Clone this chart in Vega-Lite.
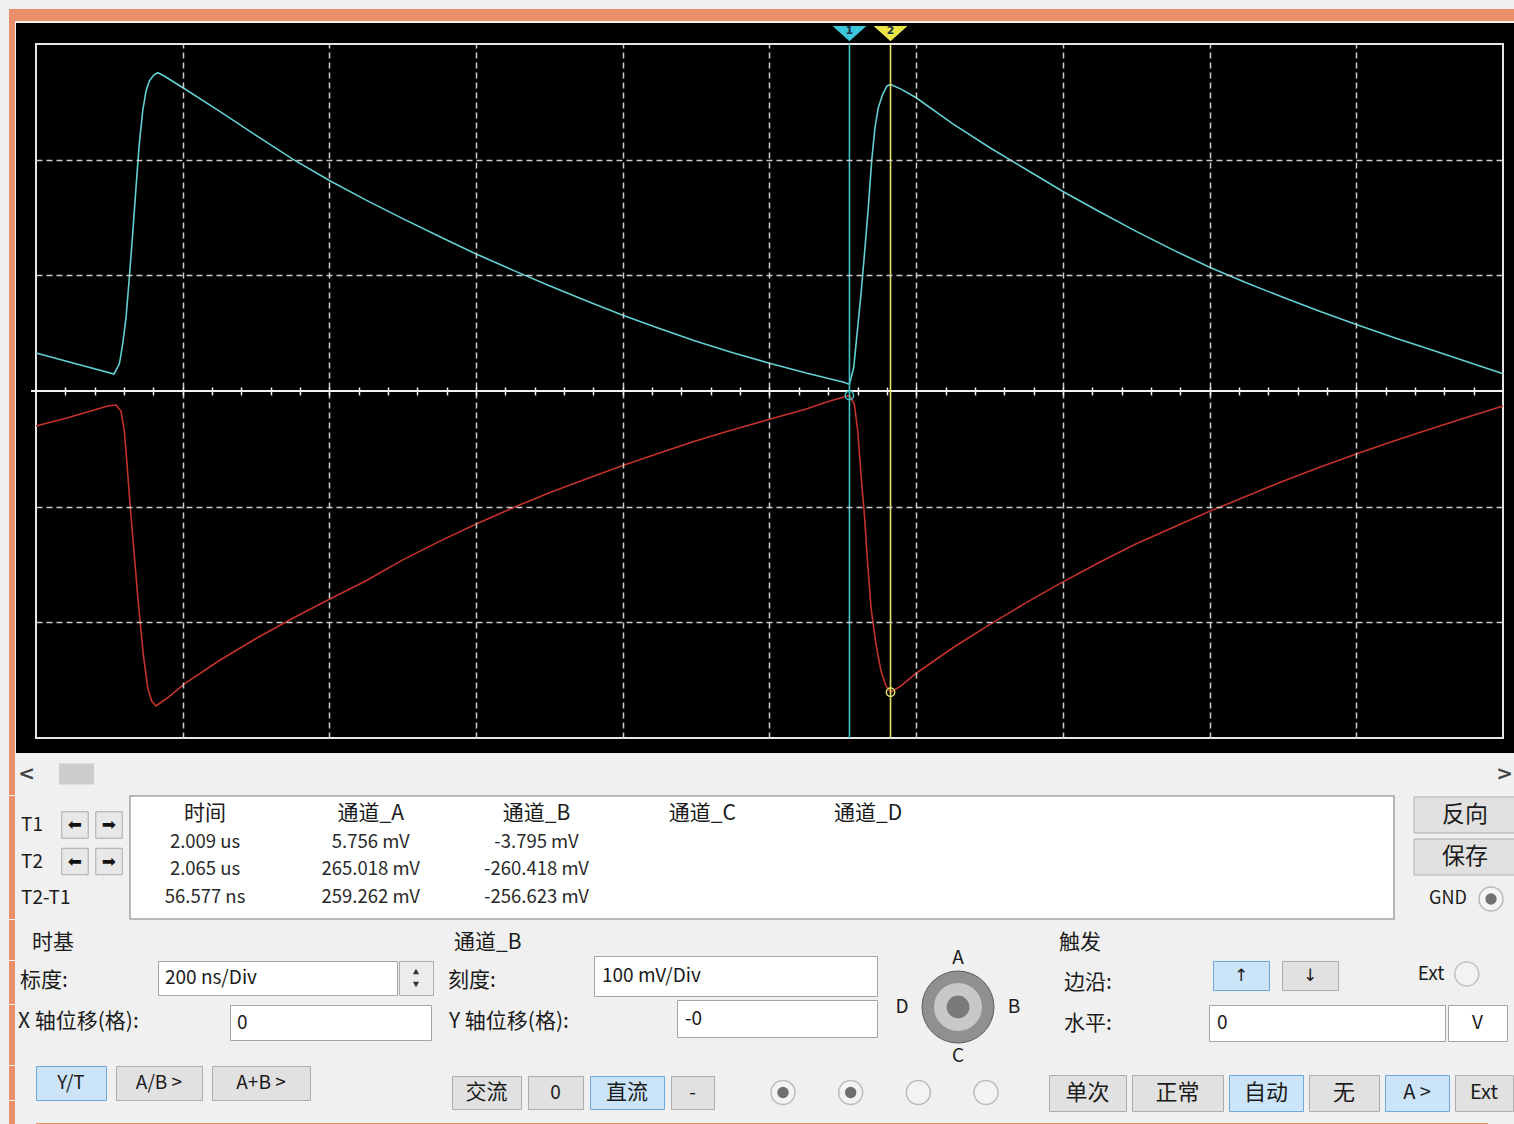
{
  "$schema": "https://vega.github.io/schema/vega-lite/v6.json",
  "background": "#f0f0f0",
  "padding": {"left": 8, "top": 8, "right": 0, "bottom": 0},
  "config": {"font": "Noto Sans CJK SC", "view": {"stroke": null}, "text": {"color": "#1b1b1b"}},
  "datasets": {
    "traces": [
      {"ch":"A","t":0.9,"v":32.9},{"ch":"A","t":1.0063,"v":14.7},{"ch":"A","t":1.0136,"v":23.3},{"ch":"A","t":1.0182,"v":40.6},{"ch":"A","t":1.0227,"v":63.1},{"ch":"A","t":1.0272,"v":97.7},{"ch":"A","t":1.0318,"v":135.7},{"ch":"A","t":1.0363,"v":175.5},{"ch":"A","t":1.0408,"v":213.5},{"ch":"A","t":1.0455,"v":242.1},{"ch":"A","t":1.05,"v":259.4},{"ch":"A","t":1.0545,"v":268.0},{"ch":"A","t":1.0605,"v":273.2},{"ch":"A","t":1.0659,"v":275.2},{"ch":"A","t":1.0749,"v":272.3},{"ch":"A","t":1.1014,"v":261.7},{"ch":"A","t":1.15,"v":242.0},{"ch":"A","t":1.2,"v":221.0},{"ch":"A","t":1.25,"v":200.5},{"ch":"A","t":1.3,"v":182.0},{"ch":"A","t":1.35,"v":165.0},{"ch":"A","t":1.4,"v":149.0},{"ch":"A","t":1.45,"v":133.5},{"ch":"A","t":1.5,"v":118.5},{"ch":"A","t":1.55,"v":104.5},{"ch":"A","t":1.6,"v":91.0},{"ch":"A","t":1.65,"v":78.0},{"ch":"A","t":1.7,"v":65.5},{"ch":"A","t":1.75,"v":54.0},{"ch":"A","t":1.8,"v":43.0},{"ch":"A","t":1.85,"v":33.0},{"ch":"A","t":1.9,"v":24.0},{"ch":"A","t":1.95,"v":15.5},{"ch":"A","t":2.0,"v":7.8},{"ch":"A","t":2.009,"v":5.8},{"ch":"A","t":2.0148,"v":20.1},{"ch":"A","t":2.0193,"v":49.0},{"ch":"A","t":2.0247,"v":83.6},{"ch":"A","t":2.0302,"v":123.9},{"ch":"A","t":2.0347,"v":158.5},{"ch":"A","t":2.0393,"v":198.9},{"ch":"A","t":2.0438,"v":227.6},{"ch":"A","t":2.0483,"v":244.9},{"ch":"A","t":2.0543,"v":256.5},{"ch":"A","t":2.0602,"v":263.7},{"ch":"A","t":2.065,"v":265.0},{"ch":"A","t":2.0793,"v":261.0},{"ch":"A","t":2.1,"v":253.5},{"ch":"A","t":2.15,"v":231.0},{"ch":"A","t":2.2,"v":210.5},{"ch":"A","t":2.25,"v":191.5},{"ch":"A","t":2.3,"v":172.5},{"ch":"A","t":2.35,"v":155.0},{"ch":"A","t":2.4,"v":138.0},{"ch":"A","t":2.45,"v":122.0},{"ch":"A","t":2.5,"v":107.0},{"ch":"A","t":2.55,"v":93.5},{"ch":"A","t":2.6,"v":81.0},{"ch":"A","t":2.65,"v":69.0},{"ch":"A","t":2.7,"v":57.5},{"ch":"A","t":2.75,"v":46.5},{"ch":"A","t":2.8,"v":36.0},{"ch":"A","t":2.85,"v":25.5},{"ch":"A","t":2.9,"v":15.0},
      {"ch":"B","t":0.9,"v":-30.3},{"ch":"B","t":0.9432,"v":-23.1},{"ch":"B","t":0.9977,"v":-13.0},{"ch":"B","t":1.0091,"v":-12.1},{"ch":"B","t":1.0159,"v":-17.3},{"ch":"B","t":1.0204,"v":-34.6},{"ch":"B","t":1.0241,"v":-63.4},{"ch":"B","t":1.0286,"v":-100.9},{"ch":"B","t":1.0332,"v":-135.5},{"ch":"B","t":1.0377,"v":-170.1},{"ch":"B","t":1.0422,"v":-201.7},{"ch":"B","t":1.0468,"v":-230.6},{"ch":"B","t":1.0523,"v":-256.5},{"ch":"B","t":1.0577,"v":-268.0},{"ch":"B","t":1.0636,"v":-272.3},{"ch":"B","t":1.0795,"v":-265.2},{"ch":"B","t":1.1014,"v":-253.6},{"ch":"B","t":1.15,"v":-233.0},{"ch":"B","t":1.2,"v":-214.0},{"ch":"B","t":1.25,"v":-196.5},{"ch":"B","t":1.3,"v":-180.0},{"ch":"B","t":1.35,"v":-164.0},{"ch":"B","t":1.4,"v":-146.0},{"ch":"B","t":1.45,"v":-130.0},{"ch":"B","t":1.5,"v":-115.0},{"ch":"B","t":1.55,"v":-101.0},{"ch":"B","t":1.6,"v":-88.0},{"ch":"B","t":1.65,"v":-76.0},{"ch":"B","t":1.7,"v":-64.5},{"ch":"B","t":1.75,"v":-53.5},{"ch":"B","t":1.8,"v":-43.0},{"ch":"B","t":1.85,"v":-33.5},{"ch":"B","t":1.9,"v":-24.5},{"ch":"B","t":1.95,"v":-15.5},{"ch":"B","t":1.98,"v":-9.0},{"ch":"B","t":2.009,"v":-3.8},{"ch":"B","t":2.0157,"v":-11.5},{"ch":"B","t":2.0203,"v":-34.6},{"ch":"B","t":2.0247,"v":-72.0},{"ch":"B","t":2.0293,"v":-106.6},{"ch":"B","t":2.0339,"v":-149.8},{"ch":"B","t":2.0384,"v":-187.4},{"ch":"B","t":2.0452,"v":-219.0},{"ch":"B","t":2.052,"v":-242.1},{"ch":"B","t":2.0588,"v":-255.0},{"ch":"B","t":2.065,"v":-260.4},{"ch":"B","t":2.0793,"v":-255.0},{"ch":"B","t":2.1,"v":-244.0},{"ch":"B","t":2.15,"v":-222.0},{"ch":"B","t":2.2,"v":-202.0},{"ch":"B","t":2.25,"v":-183.0},{"ch":"B","t":2.3,"v":-165.0},{"ch":"B","t":2.35,"v":-148.0},{"ch":"B","t":2.4,"v":-132.0},{"ch":"B","t":2.45,"v":-118.0},{"ch":"B","t":2.5,"v":-104.0},{"ch":"B","t":2.55,"v":-91.0},{"ch":"B","t":2.6,"v":-78.0},{"ch":"B","t":2.65,"v":-66.0},{"ch":"B","t":2.7,"v":-54.5},{"ch":"B","t":2.75,"v":-43.5},{"ch":"B","t":2.8,"v":-33.0},{"ch":"B","t":2.85,"v":-23.0},{"ch":"B","t":2.9,"v":-13.0}
    ],
    "cursors": [
      {"cursor":"T1","num":"1","t":2.009,"vB":-3.795},
      {"cursor":"T2","num":"2","t":2.065,"vB":-260.418}
    ]
  },
  "spacing": 0,
  "resolve": {"scale": {"fill": "independent", "stroke": "independent", "color": "independent", "shape": "independent"}},
  "vconcat": [
    {
      "width": 1467,
      "height": 694,
      "resolve": {"axis": {"x": "independent", "y": "independent"}},
      "layer": [
        {"data": {"values": [{}]}, "mark": {"type": "rect", "fill": "#e98f6a"},
         "encoding": {"x": {"datum": 0.86319, "type": "quantitative", "axis": null, "scale": {"domain": [0.9, 2.9], "nice": false, "zero": false}}, "x2": {"datum": 2.91636}, "y": {"datum": 330.26, "type": "quantitative", "axis": null, "scale": {"domain": [-300, 300], "nice": false, "zero": false}}, "y2": {"datum": 319.88}}},
        {"data": {"values": [{}]}, "mark": {"type": "rect", "fill": "#e98f6a"},
         "encoding": {"x": {"datum": 0.86319, "type": "quantitative", "axis": null}, "x2": {"datum": 0.87137}, "y": {"datum": 330.26, "type": "quantitative", "axis": null}, "y2": {"datum": -312.968}}},
        {"data": {"values": [{}]}, "mark": {"type": "rect", "fill": "#000000"},
         "encoding": {
           "x": {"datum": 0.872733, "type": "quantitative", "scale": {"domain": [0.9, 2.9], "nice": false, "zero": false},
                 "axis": {"orient": "top", "values": [1.1, 1.3, 1.5, 1.7, 1.9, 2.1, 2.3, 2.5, 2.7], "grid": true, "gridDash": [6, 4], "gridColor": "#cdcdcd", "gridWidth": 1.5, "domain": false, "ticks": false, "labels": false, "title": null, "zindex": 1}},
           "x2": {"datum": 2.91636},
           "y": {"datum": 318.156, "type": "quantitative", "scale": {"domain": [-300, 300], "nice": false, "zero": false},
                 "axis": {"orient": "left", "values": [-200, -100, 100, 200], "grid": true, "gridDash": [6, 4], "gridColor": "#cdcdcd", "gridWidth": 1.5, "domain": false, "ticks": false, "labels": false, "title": null, "zindex": 1}},
           "y2": {"datum": -312.968}
         }},
        {"data": {"values": [{}]}, "mark": {"type": "rect", "fillOpacity": 0, "stroke": "#e6e6e6", "strokeWidth": 2},
         "encoding": {"x": {"datum": 0.9, "type": "quantitative", "axis": null}, "x2": {"datum": 2.9}, "y": {"datum": 300, "type": "quantitative", "axis": null}, "y2": {"datum": -300}}},
        {"data": {"values": [{}]}, "mark": {"type": "rule", "color": "#f2f2f2", "strokeWidth": 2},
         "encoding": {"x": {"datum": 0.8932, "type": "quantitative", "axis": null}, "x2": {"datum": 2.9009}, "y": {"datum": 0, "type": "quantitative", "axis": null}}},
        {"data": {"name": "traces"}, "mark": {"type": "line", "strokeWidth": 1.6},
         "encoding": {
           "x": {"field": "t", "type": "quantitative", "scale": {"domain": [0.9, 2.9], "nice": false, "zero": false},
                 "axis": {"orient": "bottom", "offset": -351, "values": [0.94,0.98,1.02,1.06,1.1,1.14,1.18,1.22,1.26,1.3,1.34,1.38,1.42,1.46,1.5,1.54,1.58,1.62,1.66,1.7,1.74,1.78,1.82,1.86,1.9,1.94,1.98,2.02,2.06,2.1,2.14,2.18,2.22,2.26,2.3,2.34,2.38,2.42,2.46,2.5,2.54,2.58,2.62,2.66,2.7,2.74,2.78,2.82,2.86], "grid": false, "domain": false, "labels": false, "ticks": true, "tickSize": 8, "tickColor": "#f2f2f2", "tickWidth": 1.5, "title": null, "zindex": 1}},
           "y": {"field": "v", "type": "quantitative", "axis": null},
           "color": {"field": "ch", "type": "nominal", "scale": {"domain": ["A", "B"], "range": ["#62cfd1", "#c4322b"]}, "legend": null}
         }},
        {"data": {"name": "cursors"}, "transform": [{"filter": "datum.cursor == 'T1'"}], "mark": {"type": "rule", "color": "#43c2c6", "strokeWidth": 1.6},
         "encoding": {"x": {"field": "t", "type": "quantitative", "axis": null}}},
        {"data": {"name": "cursors"}, "transform": [{"filter": "datum.cursor == 'T2'"}], "mark": {"type": "rule", "color": "#e4e46a", "strokeWidth": 1.6},
         "encoding": {"x": {"field": "t", "type": "quantitative", "axis": null}}},
        {"data": {"name": "cursors"}, "mark": {"type": "point", "shape": "M-1,-0.45L1,-0.45L0,0.45Z", "size": 1150, "filled": true, "opacity": 1},
         "encoding": {"x": {"field": "t", "type": "quantitative", "axis": null}, "y": {"datum": 309, "type": "quantitative", "axis": null},
                      "fill": {"field": "cursor", "type": "nominal", "scale": {"domain": ["T1", "T2"], "range": ["#3cc6dc", "#ece548"]}, "legend": null}}},
        {"data": {"name": "cursors"}, "mark": {"type": "text", "fontSize": 11, "fontWeight": "bold", "color": "#17324a", "font": "DejaVu Sans"},
         "encoding": {"x": {"field": "t", "type": "quantitative", "axis": null}, "y": {"datum": 311, "type": "quantitative", "axis": null}, "text": {"field": "num"}}},
        {"data": {"name": "cursors"}, "mark": {"type": "point", "shape": "circle", "size": 70, "filled": false, "strokeWidth": 1.5, "opacity": 1},
         "encoding": {"x": {"field": "t", "type": "quantitative", "axis": null}, "y": {"field": "vB", "type": "quantitative", "axis": null},
                      "stroke": {"field": "cursor", "type": "nominal", "scale": {"domain": ["T1", "T2"], "range": ["#43c2c6", "#e4e46a"]}, "legend": null}}}
      ]
    },
    {
      "width": 1477,
      "height": 42,
      "resolve": {"scale": {"x": "independent"}},
      "layer": [
        {"data": {"values": [{}]}, "mark": {"type": "point", "shape": "M-0.142857,-1L0.142857,-1L0.142857,1L-0.142857,1Z", "size": 1764, "filled": true, "fill": "#e98f6a", "strokeWidth": 0, "opacity": 1, "xOffset": -24},
         "encoding": {"x": {"datum": "s", "type": "nominal", "axis": null, "scale": {"type": "point", "domain": ["s"], "align": 0}}}},
        {"data": {"values": [{"a": "<"}, {"a": ">"}]}, "transform": [{"filter": "datum.a == '<'"}], "mark": {"type": "text", "align": "right", "dx": -1, "fontSize": 20, "fontWeight": "bold", "color": "#444444", "font": "DejaVu Sans"},
         "encoding": {"x": {"field": "a", "type": "nominal", "axis": null, "scale": {"type": "point", "domain": ["<", ">"], "padding": 0}}, "text": {"field": "a"}}},
        {"data": {"values": [{"a": "<"}, {"a": ">"}]}, "transform": [{"filter": "datum.a == '>'"}], "mark": {"type": "text", "align": "right", "fontSize": 20, "fontWeight": "bold", "color": "#444444", "font": "DejaVu Sans"},
         "encoding": {"x": {"field": "a", "type": "nominal", "axis": null, "scale": {"type": "point", "domain": ["<", ">"], "padding": 0}}, "text": {"field": "a"}}},
        {"data": {"values": [{"part": "thumb"}]}, "mark": {"type": "point", "shape": "M-1,-0.6L1,-0.6L1,0.6L-1,0.6Z", "size": 1225, "filled": true, "fill": "#cdcdcd", "opacity": 1},
         "encoding": {"x": {"field": "part", "type": "nominal", "axis": null, "scale": {"type": "point", "domain": ["thumb"], "align": 0.0274}}}}
      ]
    },
    {
      "spacing": 18,
      "hconcat": [
        {
          "spacing": 0,
          "hconcat": [
            {
              "width": 93,
              "height": 123,
              "resolve": {"scale": {"x": "independent"}},
              "layer": [
                {"data": {"values": [{}]}, "mark": {"type": "point", "shape": "M-0.04878,-1L0.04878,-1L0.04878,1L-0.04878,1Z", "size": 15129, "filled": true, "fill": "#e98f6a", "strokeWidth": 0, "opacity": 1, "xOffset": -24},
                 "encoding": {"x": {"datum": "s", "type": "nominal", "axis": null, "scale": {"type": "point", "domain": ["s"], "align": 0}}}},
                {"data": {"values": [{"row": "T1", "name": "T1"}, {"row": "T2", "name": "T2"}, {"row": "T2-T1", "name": "T2-T1"}]},
                 "mark": {"type": "text", "align": "left", "dx": -15, "fontSize": 19},
                 "encoding": {"x": {"datum": "n", "type": "nominal", "axis": null, "scale": {"type": "point", "domain": ["n"], "align": 0}},
                              "y": {"field": "row", "type": "nominal", "axis": null, "scale": {"type": "point", "domain": ["T1", "T2", "T2-T1"], "padding": 0.685, "align": 0.58}},
                              "text": {"field": "name"}}},
                {"data": {"values": [{"row": "T1", "dir": "L", "glyph": "⬅"}, {"row": "T1", "dir": "R", "glyph": "➡"}, {"row": "T2", "dir": "L", "glyph": "⬅"}, {"row": "T2", "dir": "R", "glyph": "➡"}]},
                 "encoding": {"x": {"field": "dir", "type": "nominal", "axis": null, "scale": {"type": "point", "domain": ["L", "R"], "padding": 0.8676, "align": 0.661}},
                              "y": {"field": "row", "type": "nominal", "axis": null, "scale": {"type": "point", "domain": ["T1", "T2", "T2-T1"], "padding": 0.685, "align": 0.58}}},
                 "layer": [
                   {"mark": {"type": "point", "shape": "square", "size": 700, "filled": true, "fill": "#e8e8e8", "stroke": "#a9a9a9", "strokeWidth": 1, "opacity": 1}},
                   {"mark": {"type": "text", "fontSize": 17, "font": "DejaVu Sans", "color": "#111111"}, "encoding": {"text": {"field": "glyph"}}}
                 ]}
              ]
            },
            {
              "width": 1264,
              "height": 123,
              "view": {"fill": "#ffffff", "stroke": "#a3a3a3", "strokeWidth": 1.5},
              "data": {"values": [
                {"row": "header", "col": "时间", "value": "时间"},
                {"row": "header", "col": "通道_A", "value": "通道_A"},
                {"row": "header", "col": "通道_B", "value": "通道_B"},
                {"row": "header", "col": "通道_C", "value": "通道_C"},
                {"row": "header", "col": "通道_D", "value": "通道_D"},
                {"row": "T1", "col": "时间", "value": "2.009 us"},
                {"row": "T1", "col": "通道_A", "value": "5.756 mV"},
                {"row": "T1", "col": "通道_B", "value": "-3.795 mV"},
                {"row": "T2", "col": "时间", "value": "2.065 us"},
                {"row": "T2", "col": "通道_A", "value": "265.018 mV"},
                {"row": "T2", "col": "通道_B", "value": "-260.418 mV"},
                {"row": "T2-T1", "col": "时间", "value": "56.577 ns"},
                {"row": "T2-T1", "col": "通道_A", "value": "259.262 mV"},
                {"row": "T2-T1", "col": "通道_B", "value": "-256.623 mV"}
              ]},
              "encoding": {
                "x": {"field": "col", "type": "nominal", "axis": null, "scale": {"type": "point", "domain": ["时间", "通道_A", "通道_B", "通道_C", "通道_D", "_e1", "_e2", "_e3"], "padding": 0.313, "align": 0.723}},
                "y": {"field": "row", "type": "nominal", "axis": null, "scale": {"type": "point", "domain": ["header", "T1", "T2", "T2-T1"], "padding": 0.7227, "align": 0.45}},
                "text": {"field": "value"}
              },
              "layer": [
                {"transform": [{"filter": "datum.row == 'header'"}], "mark": {"type": "text", "fontSize": 21}},
                {"transform": [{"filter": "datum.row != 'header'"}], "mark": {"type": "text", "fontSize": 18.5, "color": "#2a2a2a"}}
              ]
            }
          ]
        },
        {
          "width": 102,
          "height": 123,
          "data": {"values": [{"item": "反向", "kind": "button"}, {"item": "保存", "kind": "button"}, {"item": "GND", "kind": "radio"}]},
          "encoding": {"y": {"field": "item", "type": "nominal", "axis": null, "scale": {"type": "band", "domain": ["反向", "保存", "GND"], "paddingInner": 0.1429, "paddingOuter": 0.0357, "align": 0.333}}},
          "layer": [
            {"transform": [{"filter": "datum.kind == 'button'"}], "mark": {"type": "rect", "fill": "#e1e1e1", "stroke": "#adadad"}},
            {"transform": [{"filter": "datum.kind == 'button'"}], "mark": {"type": "text", "fontSize": 23}, "encoding": {"text": {"field": "item"}}},
            {"transform": [{"filter": "datum.kind == 'radio'"}], "mark": {"type": "text", "fontSize": 18, "dx": -17}, "encoding": {"text": {"field": "item"}}},
            {"transform": [{"filter": "datum.kind == 'radio'"}], "mark": {"type": "point", "shape": "circle", "size": 576, "filled": true, "fill": "#f4f4f4", "stroke": "#b9b9b9", "strokeWidth": 1.5, "opacity": 1, "xOffset": 26}},
            {"transform": [{"filter": "datum.kind == 'radio'"}], "mark": {"type": "point", "shape": "circle", "size": 130, "filled": true, "fill": "#727272", "opacity": 1, "xOffset": 26}}
          ]
        }
      ]
    },
    {
      "spacing": 0,
      "hconcat": [
        {
          "spacing": 0,
          "vconcat": [
            {"width": 404, "height": 40, "resolve": {"scale": {"x": "independent"}},
             "layer": [
               {"data": {"values": [{}]}, "mark": {"type": "point", "shape": "M-0.15,-1L0.15,-1L0.15,1L-0.15,1Z", "size": 1600, "filled": true, "fill": "#e98f6a", "strokeWidth": 0, "opacity": 1, "xOffset": -24},
                "encoding": {"x": {"datum": "s", "type": "nominal", "axis": null, "scale": {"type": "point", "domain": ["s"], "align": 0}}}},
               {"data": {"values": [{"t": "时基"}]}, "mark": {"type": "text", "align": "left", "dx": -4, "fontSize": 21},
                "encoding": {"text": {"field": "t"}, "x": {"datum": "p", "type": "nominal", "axis": null, "scale": {"type": "point", "domain": ["p"], "align": 0}}, "y": {"datum": "p", "type": "nominal", "axis": null, "scale": {"type": "point", "domain": ["p"], "align": 0.575}}}}
             ]},
            {"spacing": 0, "hconcat": [
              {"width": 121, "height": 43, "resolve": {"scale": {"x": "independent"}},
               "layer": [
                 {"data": {"values": [{}]}, "mark": {"type": "point", "shape": "M-0.13953,-1L0.13953,-1L0.13953,1L-0.13953,1Z", "size": 1849, "filled": true, "fill": "#e98f6a", "strokeWidth": 0, "opacity": 1, "xOffset": -24},
                  "encoding": {"x": {"datum": "s", "type": "nominal", "axis": null, "scale": {"type": "point", "domain": ["s"], "align": 0}}}},
                 {"data": {"values": [{"t": "标度:"}]}, "mark": {"type": "text", "align": "left", "dx": -16, "fontSize": 21},
                  "encoding": {"text": {"field": "t"}, "x": {"datum": "p", "type": "nominal", "axis": null, "scale": {"type": "point", "domain": ["p"], "align": 0}}, "y": {"datum": "p", "type": "nominal", "axis": null, "scale": {"type": "point", "domain": ["p"], "align": 0.465}}}}
               ]},
              {"width": 239, "height": 34, "view": {"fill": "#ffffff", "stroke": "#a5a5a5"}, "data": {"values": [{"t": "200 ns/Div"}]}, "mark": {"type": "text", "align": "left", "dx": 7, "fontSize": 19},
               "encoding": {"text": {"field": "t"}, "x": {"datum": "p", "type": "nominal", "axis": null, "scale": {"type": "point", "domain": ["p"], "align": 0}}}},
              {"width": 34, "height": 34, "view": {"fill": "#ececec", "stroke": "#adadad"}, "data": {"values": [{"d": "up"}, {"d": "down"}]},
               "mark": {"type": "point", "filled": true, "size": 40, "color": "#333333", "opacity": 1},
               "encoding": {"shape": {"field": "d", "type": "nominal", "scale": {"domain": ["up", "down"], "range": ["triangle-up", "triangle-down"]}, "legend": null},
                            "y": {"field": "d", "type": "nominal", "axis": null, "scale": {"type": "point", "domain": ["up", "down"], "padding": 0.8}}}}
            ]},
            {"spacing": 0, "hconcat": [
              {"width": 193, "height": 60, "resolve": {"scale": {"x": "independent"}},
               "layer": [
                 {"data": {"values": [{}]}, "mark": {"type": "point", "shape": "M-0.1,-1L0.1,-1L0.1,1L-0.1,1Z", "size": 3600, "filled": true, "fill": "#e98f6a", "strokeWidth": 0, "opacity": 1, "xOffset": -24},
                  "encoding": {"x": {"datum": "s", "type": "nominal", "axis": null, "scale": {"type": "point", "domain": ["s"], "align": 0}}}},
                 {"data": {"values": [{"t": "X 轴位移(格):"}]}, "mark": {"type": "text", "align": "left", "dx": -18, "fontSize": 21},
                  "encoding": {"text": {"field": "t"}, "x": {"datum": "p", "type": "nominal", "axis": null, "scale": {"type": "point", "domain": ["p"], "align": 0}}, "y": {"datum": "p", "type": "nominal", "axis": null, "scale": {"type": "point", "domain": ["p"], "align": 0.283}}}}
               ]},
              {"width": 201, "height": 35, "view": {"fill": "#ffffff", "stroke": "#a5a5a5"}, "data": {"values": [{"t": "0"}]}, "mark": {"type": "text", "align": "left", "dx": 7, "fontSize": 19},
               "encoding": {"text": {"field": "t"}, "x": {"datum": "p", "type": "nominal", "axis": null, "scale": {"type": "point", "domain": ["p"], "align": 0}}}}
            ]},
            {"spacing": 8, "hconcat": [
              {"width": 70, "height": 34, "view": {"fill": "#cce4f7", "stroke": "#6fa8dc"},
               "layer": [
                 {"data": {"values": [{}]}, "mark": {"type": "point", "shape": "M-0.17647,-1L0.17647,-1L0.17647,1L-0.17647,1Z", "size": 1156, "filled": true, "fill": "#e98f6a", "strokeWidth": 0, "opacity": 1, "xOffset": -24},
                  "encoding": {"x": {"datum": "s", "type": "nominal", "axis": null, "scale": {"type": "point", "domain": ["s"], "align": 0}}}},
                 {"data": {"values": [{"t": "Y/T"}]}, "mark": {"type": "text", "fontSize": 19}, "encoding": {"text": {"field": "t"}}}
               ]},
              {"width": 86, "height": 34, "view": {"fill": "#e1e1e1", "stroke": "#adadad"}, "data": {"values": [{"t": "A/B >"}]}, "mark": {"type": "text", "fontSize": 19}, "encoding": {"text": {"field": "t"}}},
              {"width": 98, "height": 34, "view": {"fill": "#e1e1e1", "stroke": "#adadad"}, "data": {"values": [{"t": "A+B >"}]}, "mark": {"type": "text", "fontSize": 19}, "encoding": {"text": {"field": "t"}}}
            ]},
            {"width": 10, "height": 12, "data": {"values": [{}]}, "mark": {"type": "point", "shape": "M-0.5,-1L0.5,-1L0.5,1L-0.5,1Z", "size": 144, "filled": true, "fill": "#e98f6a", "strokeWidth": 0, "opacity": 1, "xOffset": -24},
             "encoding": {"x": {"datum": "s", "type": "nominal", "axis": null, "scale": {"type": "point", "domain": ["s"], "align": 0}}}}
          ]
        },
        {
          "spacing": 0,
          "vconcat": [
            {"spacing": 0, "hconcat": [
              {"spacing": 0, "vconcat": [
                {"width": 446, "height": 35, "data": {"values": [{"t": "通道_B"}]}, "mark": {"type": "text", "align": "left", "fontSize": 21},
                 "encoding": {"text": {"field": "t"}, "x": {"datum": "p", "type": "nominal", "axis": null, "scale": {"type": "point", "domain": ["p"], "align": 0.0314}}, "y": {"datum": "p", "type": "nominal", "axis": null, "scale": {"type": "point", "domain": ["p"], "align": 0.657}}}},
                {"spacing": 0, "hconcat": [
                  {"width": 153, "height": 43, "data": {"values": [{"t": "刻度:"}]}, "mark": {"type": "text", "align": "left", "fontSize": 21},
                   "encoding": {"text": {"field": "t"}, "x": {"datum": "p", "type": "nominal", "axis": null, "scale": {"type": "point", "domain": ["p"], "align": 0.0523}}, "y": {"datum": "p", "type": "nominal", "axis": null, "scale": {"type": "point", "domain": ["p"], "align": 0.58}}}},
                  {"width": 283, "height": 40, "view": {"fill": "#ffffff", "stroke": "#a5a5a5"}, "data": {"values": [{"t": "100 mV/Div"}]}, "mark": {"type": "text", "align": "left", "dx": 8, "fontSize": 19},
                   "encoding": {"text": {"field": "t"}, "x": {"datum": "p", "type": "nominal", "axis": null, "scale": {"type": "point", "domain": ["p"], "align": 0}}}}
                ]},
                {"spacing": 0, "hconcat": [
                  {"width": 236, "height": 37, "data": {"values": [{"t": "Y 轴位移(格):"}]}, "mark": {"type": "text", "align": "left", "fontSize": 21},
                   "encoding": {"text": {"field": "t"}, "x": {"datum": "p", "type": "nominal", "axis": null, "scale": {"type": "point", "domain": ["p"], "align": 0.0381}}, "y": {"datum": "p", "type": "nominal", "axis": null, "scale": {"type": "point", "domain": ["p"], "align": 0.595}}}},
                  {"width": 200, "height": 37, "view": {"fill": "#ffffff", "stroke": "#a5a5a5"}, "data": {"values": [{"t": "-0"}]}, "mark": {"type": "text", "align": "left", "dx": 8, "fontSize": 19},
                   "encoding": {"text": {"field": "t"}, "x": {"datum": "p", "type": "nominal", "axis": null, "scale": {"type": "point", "domain": ["p"], "align": 0}}}}
                ]}
              ]},
              {"width": 162, "height": 155,
               "data": {"values": [{"h": "mid", "v": "A", "label": "A"}, {"h": "D", "v": "mid", "label": "D"}, {"h": "B", "v": "mid", "label": "B"}, {"h": "mid", "v": "C", "label": "C"}, {"h": "mid", "v": "mid", "label": ""}]},
               "encoding": {"x": {"field": "h", "type": "nominal", "axis": null, "scale": {"type": "point", "domain": ["D", "mid", "B"], "padding": 0.4464, "align": 0.32}},
                            "y": {"field": "v", "type": "nominal", "axis": null, "scale": {"type": "point", "domain": ["A", "mid", "C"], "padding": 0.5816, "align": 0.667}}},
               "layer": [
                 {"transform": [{"filter": "datum.label == ''"}], "mark": {"type": "point", "shape": "circle", "size": 5184, "filled": true, "fill": "#909090", "stroke": "#5e5e5e", "strokeWidth": 1, "opacity": 1}},
                 {"transform": [{"filter": "datum.label == ''"}], "mark": {"type": "point", "shape": "circle", "size": 2300, "filled": true, "fill": "#c8c8c8", "opacity": 1}},
                 {"transform": [{"filter": "datum.label == ''"}], "mark": {"type": "point", "shape": "circle", "size": 520, "filled": true, "fill": "#7a7a7a", "opacity": 1}},
                 {"transform": [{"filter": "datum.label != ''"}], "mark": {"type": "text", "fontSize": 19}, "encoding": {"text": {"field": "label"}}}
               ]}
            ]},
            {"spacing": 5, "hconcat": [
              {"width": 6, "height": 33, "data": {"values": [{"t": ""}]}, "mark": {"type": "text"}, "encoding": {"text": {"field": "t"}}},
              {"width": 69, "height": 33, "view": {"fill": "#e1e1e1", "stroke": "#adadad"}, "data": {"values": [{"t": "交流"}]}, "mark": {"type": "text", "fontSize": 21}, "encoding": {"text": {"field": "t"}}},
              {"width": 55, "height": 33, "view": {"fill": "#e1e1e1", "stroke": "#adadad"}, "data": {"values": [{"t": "0"}]}, "mark": {"type": "text", "fontSize": 19}, "encoding": {"text": {"field": "t"}}},
              {"width": 74, "height": 33, "view": {"fill": "#cce4f7", "stroke": "#6fa8dc"}, "data": {"values": [{"t": "直流"}]}, "mark": {"type": "text", "fontSize": 21}, "encoding": {"text": {"field": "t"}}},
              {"width": 43, "height": 33, "view": {"fill": "#e1e1e1", "stroke": "#adadad"}, "data": {"values": [{"t": "-"}]}, "mark": {"type": "text", "fontSize": 19}, "encoding": {"text": {"field": "t"}}},
              {"width": 328, "height": 33,
               "data": {"values": [{"ch": "A", "sel": "on"}, {"ch": "B", "sel": "on"}, {"ch": "C", "sel": "off"}, {"ch": "D", "sel": "off"}]},
               "encoding": {"x": {"field": "ch", "type": "nominal", "axis": null, "scale": {"type": "point", "domain": ["A", "B", "C", "D"], "padding": 0.9236, "align": 0.504}}},
               "layer": [
                 {"mark": {"type": "point", "shape": "circle", "size": 576, "filled": true, "fill": "#f3f3f3", "stroke": "#bcbcbc", "strokeWidth": 1.5, "opacity": 1}},
                 {"transform": [{"filter": "datum.sel == 'on'"}], "mark": {"type": "point", "shape": "circle", "size": 130, "filled": true, "fill": "#6f6f6f", "opacity": 1}}
               ]}
            ]}
          ]
        },
        {
          "spacing": 0,
          "vconcat": [
            {"width": 467, "height": 38, "data": {"values": [{"t": "触发"}]}, "mark": {"type": "text", "align": "left", "fontSize": 21},
             "encoding": {"text": {"field": "t"}, "x": {"datum": "p", "type": "nominal", "axis": null, "scale": {"type": "point", "domain": ["p"], "align": 0.0214}}, "y": {"datum": "p", "type": "nominal", "axis": null, "scale": {"type": "point", "domain": ["p"], "align": 0.605}}}},
            {"spacing": 0, "hconcat": [
              {"width": 163, "height": 43, "data": {"values": [{"t": "边沿:"}]}, "mark": {"type": "text", "align": "left", "fontSize": 21},
               "encoding": {"text": {"field": "t"}, "x": {"datum": "p", "type": "nominal", "axis": null, "scale": {"type": "point", "domain": ["p"], "align": 0.092}}, "y": {"datum": "p", "type": "nominal", "axis": null, "scale": {"type": "point", "domain": ["p"], "align": 0.51}}}},
              {"spacing": 11, "hconcat": [
                {"width": 56, "height": 29, "view": {"fill": "#cce4f7", "stroke": "#6fa8dc"}, "data": {"values": [{"t": "↑"}]}, "mark": {"type": "text", "fontSize": 17, "font": "DejaVu Sans"}, "encoding": {"text": {"field": "t"}}},
                {"width": 56, "height": 29, "view": {"fill": "#e1e1e1", "stroke": "#adadad"}, "data": {"values": [{"t": "↓"}]}, "mark": {"type": "text", "fontSize": 17, "font": "DejaVu Sans"}, "encoding": {"text": {"field": "t"}}}
              ]},
              {"width": 177, "height": 43, "resolve": {"scale": {"x": "independent"}},
               "encoding": {"y": {"datum": "p", "type": "nominal", "axis": null, "scale": {"type": "point", "domain": ["p"], "align": 0.302}}},
               "layer": [
                 {"data": {"values": [{"t": "Ext"}]}, "mark": {"type": "text", "fontSize": 19},
                  "encoding": {"text": {"field": "t"}, "x": {"datum": "e", "type": "nominal", "axis": null, "scale": {"type": "point", "domain": ["e"], "align": 0.52}}}},
                 {"data": {"values": [{"t": "radio"}]}, "mark": {"type": "point", "shape": "circle", "size": 576, "filled": true, "fill": "#f3f3f3", "stroke": "#c2c2c2", "strokeWidth": 1.5, "opacity": 1},
                  "encoding": {"x": {"datum": "o", "type": "nominal", "axis": null, "scale": {"type": "point", "domain": ["o"], "align": 0.722}}}}
               ]}
            ]},
            {"spacing": 1, "hconcat": [
              {"width": 158, "height": 69, "data": {"values": [{"t": "水平:"}]}, "mark": {"type": "text", "align": "left", "fontSize": 21},
               "encoding": {"text": {"field": "t"}, "x": {"datum": "p", "type": "nominal", "axis": null, "scale": {"type": "point", "domain": ["p"], "align": 0.095}}, "y": {"datum": "p", "type": "nominal", "axis": null, "scale": {"type": "point", "domain": ["p"], "align": 0.275}}}},
              {"width": 236, "height": 36, "view": {"fill": "#ffffff", "stroke": "#a5a5a5"}, "data": {"values": [{"t": "0"}]}, "mark": {"type": "text", "align": "left", "dx": 8, "fontSize": 19},
               "encoding": {"text": {"field": "t"}, "x": {"datum": "p", "type": "nominal", "axis": null, "scale": {"type": "point", "domain": ["p"], "align": 0}}}},
              {"width": 59, "height": 36, "view": {"fill": "#ffffff", "stroke": "#a5a5a5"}, "data": {"values": [{"t": "V"}]}, "mark": {"type": "text", "fontSize": 19}, "encoding": {"text": {"field": "t"}}}
            ]},
            {"spacing": 4, "hconcat": [
              {"width": 77, "height": 36, "view": {"fill": "#e1e1e1", "stroke": "#adadad"}, "data": {"values": [{"t": "单次"}]}, "mark": {"type": "text", "fontSize": 22}, "encoding": {"text": {"field": "t"}}},
              {"width": 91, "height": 36, "view": {"fill": "#e1e1e1", "stroke": "#adadad"}, "data": {"values": [{"t": "正常"}]}, "mark": {"type": "text", "fontSize": 22}, "encoding": {"text": {"field": "t"}}},
              {"width": 74, "height": 36, "view": {"fill": "#cce4f7", "stroke": "#6fa8dc"}, "data": {"values": [{"t": "自动"}]}, "mark": {"type": "text", "fontSize": 22}, "encoding": {"text": {"field": "t"}}},
              {"width": 70, "height": 36, "view": {"fill": "#e1e1e1", "stroke": "#adadad"}, "data": {"values": [{"t": "无"}]}, "mark": {"type": "text", "fontSize": 22}, "encoding": {"text": {"field": "t"}}},
              {"width": 64, "height": 36, "view": {"fill": "#cce4f7", "stroke": "#6fa8dc"}, "data": {"values": [{"t": "A >"}]}, "mark": {"type": "text", "fontSize": 20}, "encoding": {"text": {"field": "t"}}},
              {"width": 58, "height": 36, "view": {"fill": "#e1e1e1", "stroke": "#adadad"}, "data": {"values": [{"t": "Ext"}]}, "mark": {"type": "text", "fontSize": 20}, "encoding": {"text": {"field": "t"}}}
            ]}
          ]
        }
      ]
    },
    {
      "width": 1479,
      "height": 18,
      "resolve": {"scale": {"x": "independent", "y": "independent"}},
      "layer": [
        {"data": {"values": [{}]}, "mark": {"type": "point", "shape": "M-0.3333,-1L0.3333,-1L0.3333,1L-0.3333,1Z", "size": 324, "filled": true, "fill": "#e98f6a", "strokeWidth": 0, "opacity": 1, "xOffset": -24},
         "encoding": {"x": {"datum": "s", "type": "nominal", "axis": null, "scale": {"type": "point", "domain": ["s"], "align": 0}}}},
        {"data": {"values": [{}]}, "mark": {"type": "rule", "color": "#e98f6a", "strokeWidth": 4, "xOffset": -27},
         "encoding": {"y": {"datum": "b", "type": "nominal", "axis": null, "scale": {"type": "point", "domain": ["b"], "align": 0.667}}}}
      ]
    }
  ]
}
